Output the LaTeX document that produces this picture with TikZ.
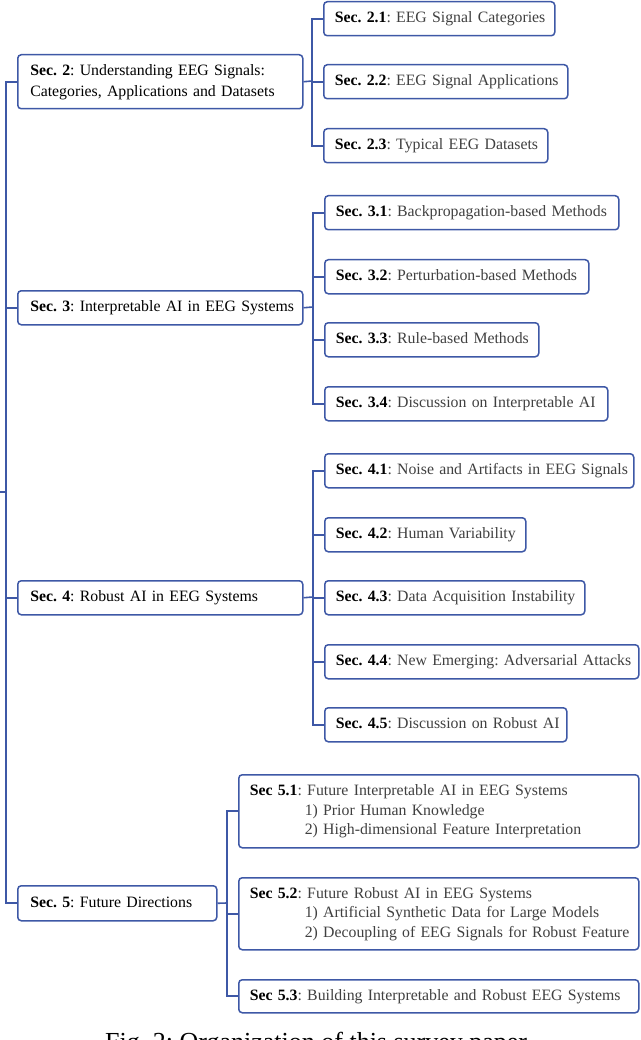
\documentclass[tikz,border=0pt]{standalone}
\usepackage{fontspec}
\setmainfont{Liberation Serif}
\definecolor{bblue}{RGB}{62,88,166}
\definecolor{txtgray}{RGB}{64,64,64}
\newcommand\secb[1]{\textbf{\color{black}#1}}
\tikzset{
  bx/.style={draw=bblue, line width=1.5pt, rounded corners=3.5pt, fill=white,
    inner xsep=11pt, inner ysep=0pt, align=left, anchor=north west,
    font=\fontsize{15.8}{19.5}\selectfont\frenchspacing, text=txtgray},
  mainbx/.style={bx, inner xsep=12.5pt, text=black},
  link/.style={draw=bblue, line width=1.6pt},
}
\begin{document}
\frenchspacing
\begin{tikzpicture}[x=1pt,y=-1pt]
\useasboundingbox (0,0) rectangle (640,1040);
\clip (0,0) rectangle (640,1040);
% main sections
\node[mainbx, text width=260pt, minimum height=54pt, font=\fontsize{15.8}{20.5}\selectfont\frenchspacing] (s2) at (17,54)
  {\mbox{\strut\secb{Sec. 2}: Understanding EEG Signals:}\\\mbox{\strut Categories, Applications and Datasets}};
\node[mainbx, text width=260pt, minimum height=34pt] (s3) at (17,290)
  {\mbox{\strut\secb{Sec. 3}: Interpretable AI in EEG Systems}};
\node[mainbx, text width=260pt, minimum height=34pt] (s4) at (17,580)
  {\mbox{\strut\secb{Sec. 4}: Robust AI in EEG Systems}};
\node[mainbx, text width=174pt, minimum height=35pt] (s5) at (17,885)
  {\mbox{\strut\secb{Sec. 5}: Future Directions}};
% sec 2 children
\node[bx, text width=209pt, minimum height=34pt] (c21) at (323,1)
  {\mbox{\strut\secb{Sec. 2.1}: EEG Signal Categories}};
\node[bx, text width=222pt, minimum height=34pt] (c22) at (323,64)
  {\mbox{\strut\secb{Sec. 2.2}: EEG Signal Applications}};
\node[bx, text width=202pt, minimum height=34pt] (c23) at (323,128)
  {\mbox{\strut\secb{Sec. 2.3}: Typical EEG Datasets}};
% sec 3 children
\node[bx, text width=272pt, minimum height=34pt] (c31) at (324,195)
  {\mbox{\strut\secb{Sec. 3.1}: Backpropagation-based Methods}};
\node[bx, text width=242pt, minimum height=34pt] (c32) at (324,259)
  {\mbox{\strut\secb{Sec. 3.2}: Perturbation-based Methods}};
\node[bx, text width=192pt, minimum height=34pt] (c33) at (324,322)
  {\mbox{\strut\secb{Sec. 3.3}: Rule-based Methods}};
\node[bx, text width=261pt, minimum height=34pt] (c34) at (324,386)
  {\mbox{\strut\secb{Sec. 3.4}: Discussion on Interpretable AI}};
% sec 4 children
\node[bx, text width=287pt, minimum height=34pt] (c41) at (324,453)
  {\mbox{\strut\secb{Sec. 4.1}: Noise and Artifacts in EEG Signals}};
\node[bx, text width=179pt, minimum height=34pt] (c42) at (324,517)
  {\mbox{\strut\secb{Sec. 4.2}: Human Variability}};
\node[bx, text width=238pt, minimum height=34pt] (c43) at (324,580)
  {\mbox{\strut\secb{Sec. 4.3}: Data Acquisition Instability}};
\node[bx, text width=292pt, minimum height=34pt] (c44) at (324,644)
  {\mbox{\strut\secb{Sec. 4.4}: New Emerging: Adversarial Attacks}};
\node[bx, text width=220pt, minimum height=34pt] (c45) at (324,707)
  {\mbox{\strut\secb{Sec. 4.5}: Discussion on Robust AI}};
% sec 5 children
\node[bx, text width=378pt, minimum height=73pt] (c51) at (238,774)
  {\mbox{\strut\secb{Sec 5.1}: Future Interpretable AI in EEG Systems}\\
   \mbox{\strut\hspace*{55pt}1) Prior Human Knowledge}\\
   \mbox{\strut\hspace*{55pt}2) High-dimensional Feature Interpretation}};
\node[bx, text width=378pt, minimum height=72pt] (c52) at (238,877)
  {\mbox{\strut\secb{Sec 5.2}: Future Robust AI in EEG Systems}\\
   \mbox{\strut\hspace*{55pt}1) Artificial Synthetic Data for Large Models}\\
   \mbox{\strut\hspace*{55pt}2) Decoupling of EEG Signals for Robust Feature}};
\node[bx, text width=378pt, minimum height=33pt] (c53) at (238,979)
  {\mbox{\strut\secb{Sec 5.3}: Building Interpretable and Robust EEG Systems}};
% caption (cut by the page edge, as in the reference)
\node[anchor=base west, inner sep=0pt, font=\fontsize{26}{30}\selectfont] (cap) at (105,1050)
  {Fig. 2: Organization of this survey paper.};
% trunk
\coordinate (root) at (0,492);
\coordinate (tr) at (6,492);
\draw[link] (root) -- (tr);
\draw[link] (s2.west) -| (tr) |- (s5.west);
\draw[link] (s3.west) -| (tr);
\draw[link] (s4.west) -| (tr);
% branch 2
\coordinate (b2) at (312,81);
\draw[link] (s2.east) -- (b2);
\draw[link] (c21.west) -| (b2) |- (c23.west);
\draw[link] (c22.west) -| (b2);
% branch 3
\coordinate (b3) at (313,307);
\draw[link] (s3.east) -- (b3);
\draw[link] (c31.west) -| (b3) |- (c34.west);
\draw[link] (c32.west) -| (b3);
\draw[link] (c33.west) -| (b3);
% branch 4
\coordinate (b4) at (313,597);
\draw[link] (s4.east) -- (b4);
\draw[link] (c41.west) -| (b4) |- (c45.west);
\draw[link] (c42.west) -| (b4);
\draw[link] (c43.west) -| (b4);
\draw[link] (c44.west) -| (b4);
% branch 5
\coordinate (b5) at (227,903);
\draw[link] (s5.east) -- (b5);
\draw[link] (c51.west) -| (b5) |- (c53.west);
\draw[link] (c52.west) -| (b5);
\end{tikzpicture}
\end{document}
